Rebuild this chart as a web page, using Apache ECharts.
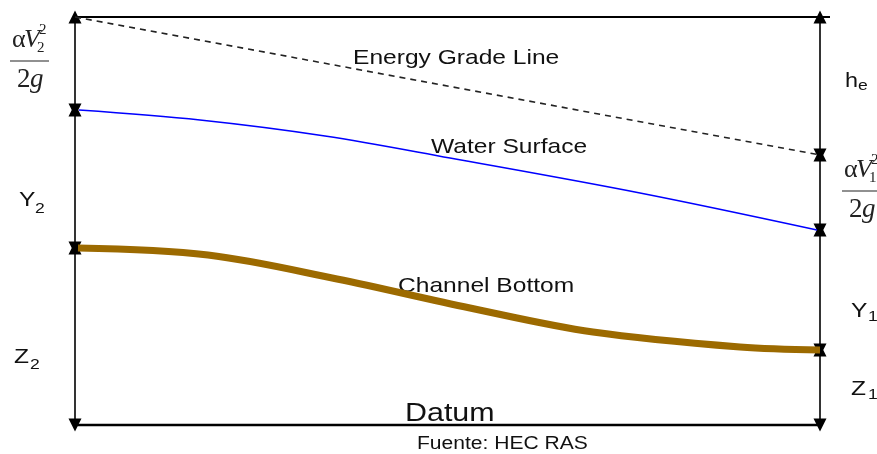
<!DOCTYPE html>
<html>
<head>
<meta charset="utf-8">
<script src="https://cdn.jsdelivr.net/npm/echarts@6/dist/echarts.min.js"></script>
<style>
  html, body { margin: 0; padding: 0; background: #fff; }
  #chart { width: 877px; height: 454px; }
</style>
</head>
<body>
<div id="chart"></div>
<script>
// elevations measured from the datum, stations measured from the left section
const topLevel = 408;
const eglX = [0, 745];
const eglY = [408, 270];
const waterX = [4, 125, 250, 375, 565, 742];
const waterY = [315, 305, 289, 267, 232, 195];
const bedX = [3, 133, 262, 395, 518, 665, 745];
const bedY = [177, 170, 146, 117, 93, 78, 75];
// dimension arrows at the two sections
const leftLevels = [408, 315, 177, 0];
const rightLevels = [408, 270, 195, 75, 0];

const zip = (xs, ys) => xs.map((x, i) => [x, ys[i]]);

function dims(x, levels) {
  const out = [];
  for (let i = 0; i < levels.length - 1; i++) {
    out.push({ coords: [[x, levels[i]], [x, levels[i + 1]]] });
  }
  return out;
}

const TXT = '#111';
const SANS = 'Liberation Sans, Arial, sans-serif';
const SERIF = 'Liberation Serif, Times New Roman, serif';

function label(x, y, text, size, opts) {
  return Object.assign({
    type: 'text', x: x, y: y, scaleX: 1.17, silent: true,
    style: { text: text, fill: TXT, font: size + 'px ' + SANS, textVerticalAlign: 'middle' }
  }, opts || {});
}

function serif(x, y, text, size, italic) {
  return {
    type: 'text', x: x, y: y, silent: true,
    style: { text: text, fill: '#222', font: (italic ? 'italic ' : '') + size + 'px ' + SERIF, textVerticalAlign: 'middle' }
  };
}

function fraction(x, y, sub) {
  return [
    serif(x + 2, y, 'α', 26, false),
    serif(x + 14, y, 'V', 26, true),
    serif(x + 29, y - 10, '2', 15, false),
    serif(x + 27, y + 8, sub, 15, false),
    { type: 'line', silent: true, shape: { x1: x, y1: y + 21, x2: x + 39, y2: y + 21 }, style: { stroke: '#222', lineWidth: 1.2 } },
    serif(x + 7, y + 40, '2', 27, false),
    serif(x + 20, y + 40, 'g', 27, true)
  ];
}

const chart = echarts.init(document.getElementById('chart'));
chart.setOption({
  animation: false,
  backgroundColor: '#fff',
  grid: { left: 65, right: 47, top: 7, bottom: 19 },
  xAxis: { type: 'value', min: -10, max: 755, show: false },
  yAxis: { type: 'value', min: -10, max: 418, show: false },
  series: [
    {
      type: 'line', clip: false, silent: true, showSymbol: false,
      data: [[0, topLevel], [755, topLevel]],
      lineStyle: { color: '#000', width: 2 }
    },
    {
      type: 'line', clip: false, silent: true, showSymbol: false,
      data: [[0, 0], [745, 0]],
      lineStyle: { color: '#000', width: 2.5 }
    },
    {
      type: 'line', clip: false, silent: true, showSymbol: false,
      data: zip(eglX, eglY),
      lineStyle: { color: '#222', width: 1.6, type: [6, 5] }
    },
    {
      type: 'line', clip: false, silent: true, showSymbol: false, smooth: 0.35,
      data: zip(waterX, waterY),
      lineStyle: { color: '#0000ff', width: 1.5 }
    },
    {
      type: 'line', clip: false, silent: true, showSymbol: false, smooth: 0.35,
      data: zip(bedX, bedY),
      lineStyle: { color: '#9c6a00', width: 7 }
    },
    {
      type: 'lines', coordinateSystem: 'cartesian2d', clip: false, silent: true,
      symbol: ['triangle', 'triangle'], symbolSize: 13,
      lineStyle: { color: '#000', width: 1.6, opacity: 1 },
      itemStyle: { color: '#000' },
      data: dims(0, leftLevels).concat(dims(745, rightLevels))
    }
  ],
  graphic: [
    label(353, 58, 'Energy Grade Line', 21),
    label(431, 147, 'Water Surface', 21),
    label(398, 286, 'Channel Bottom', 21),
    label(405, 414, 'Datum', 26),
    label(417, 444, 'Fuente: HEC RAS', 18),
    label(845, 81, 'h', 20),
    label(858, 86, 'e', 15),
    label(19, 200, 'Y', 21),
    label(35, 209, '2', 15),
    label(14, 357, 'Z', 21),
    label(30, 365, '2', 15),
    label(851, 311, 'Y', 21),
    label(868, 317, '1', 15),
    label(851, 389, 'Z', 21),
    label(868, 395, '1', 15)
  ].concat(fraction(10, 40, '2'), fraction(842, 170, '1'))
});
</script>
</body>
</html>
